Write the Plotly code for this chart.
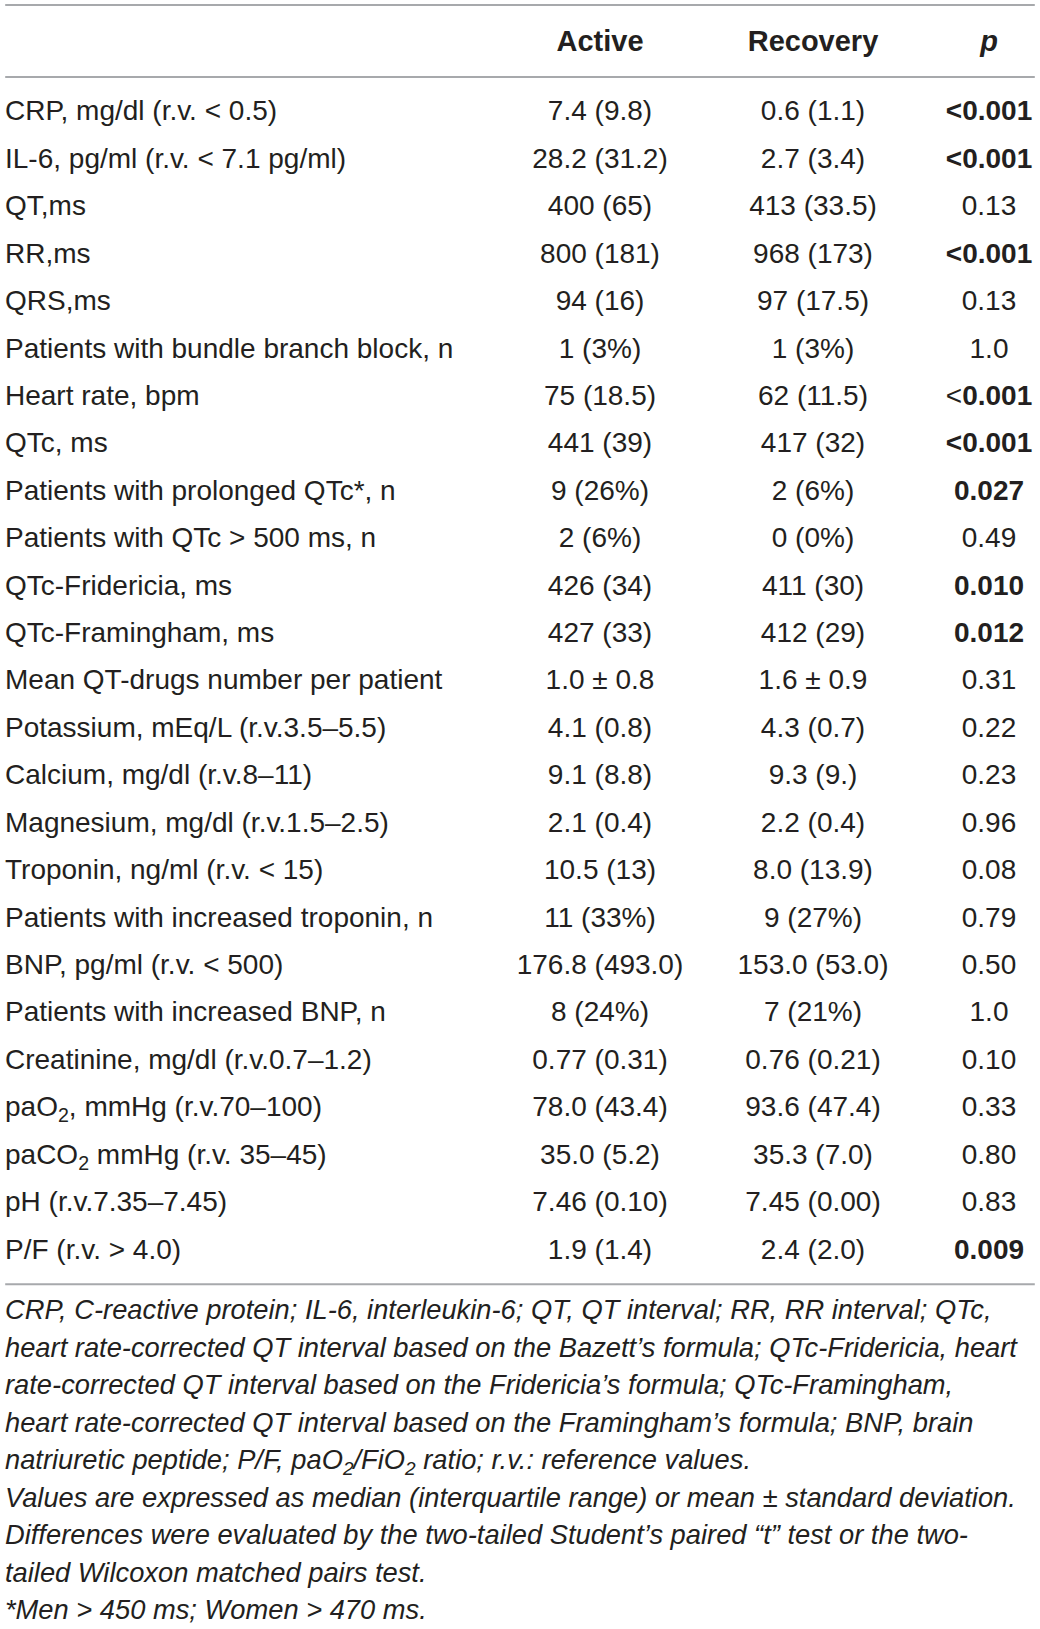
import plotly.graph_objects as go

# table content
labels = [
    "CRP, mg/dl (r.v. < 0.5)",
    "IL-6, pg/ml (r.v. < 7.1 pg/ml)",
    "QT,ms",
    "RR,ms",
    "QRS,ms",
    "Patients with bundle branch block, n",
    "Heart rate, bpm",
    "QTc, ms",
    "Patients with prolonged QTc*, n",
    "Patients with QTc > 500 ms, n",
    "QTc-Fridericia, ms",
    "QTc-Framingham, ms",
    "Mean QT-drugs number per patient",
    "Potassium, mEq/L (r.v.3.5–5.5)",
    "Calcium, mg/dl (r.v.8–11)",
    "Magnesium, mg/dl (r.v.1.5–2.5)",
    "Troponin, ng/ml (r.v. < 15)",
    "Patients with increased troponin, n",
    "BNP, pg/ml (r.v. < 500)",
    "Patients with increased BNP, n",
    "Creatinine, mg/dl (r.v.0.7–1.2)",
    "paO<sub>2</sub>, mmHg (r.v.70–100)",
    "paCO<sub>2</sub> mmHg (r.v. 35–45)",
    "pH (r.v.7.35–7.45)",
    "P/F (r.v. > 4.0)",
]
active = [
    "7.4 (9.8)", "28.2 (31.2)", "400 (65)", "800 (181)", "94 (16)", "1 (3%)",
    "75 (18.5)", "441 (39)", "9 (26%)", "2 (6%)", "426 (34)", "427 (33)",
    "1.0 ± 0.8", "4.1 (0.8)", "9.1 (8.8)", "2.1 (0.4)", "10.5 (13)", "11 (33%)",
    "176.8 (493.0)", "8 (24%)", "0.77 (0.31)", "78.0 (43.4)", "35.0 (5.2)",
    "7.46 (0.10)", "1.9 (1.4)",
]
recovery = [
    "0.6 (1.1)", "2.7 (3.4)", "413 (33.5)", "968 (173)", "97 (17.5)", "1 (3%)",
    "62 (11.5)", "417 (32)", "2 (6%)", "0 (0%)", "411 (30)", "412 (29)",
    "1.6 ± 0.9", "4.3 (0.7)", "9.3 (9.)", "2.2 (0.4)", "8.0 (13.9)", "9 (27%)",
    "153.0 (53.0)", "7 (21%)", "0.76 (0.21)", "93.6 (47.4)", "35.3 (7.0)",
    "7.45 (0.00)", "2.4 (2.0)",
]
p_values = [
    "<b><0.001</b>", "<b><0.001</b>", "0.13", "<b><0.001</b>", "0.13", "1.0",
    "<<b>0.001</b>", "<b><0.001</b>", "<b>0.027</b>", "0.49", "<b>0.010</b>",
    "<b>0.012</b>", "0.31", "0.22", "0.23", "0.96", "0.08", "0.79", "0.50",
    "1.0", "0.10", "0.33", "0.80", "0.83", "<b>0.009</b>",
]
headers = ["<b>Active</b>", "<b>Recovery</b>", "<b><i>p</i></b>"]
footnotes = [
    "CRP, C-reactive protein; IL-6, interleukin-6; QT, QT interval; RR, RR interval; QTc,",
    "heart rate-corrected QT interval based on the Bazett’s formula; QTc-Fridericia, heart",
    "rate-corrected QT interval based on the Fridericia’s formula; QTc-Framingham,",
    "heart rate-corrected QT interval based on the Framingham’s formula; BNP, brain",
    "natriuretic peptide; P/F, paO<sub>2</sub>/FiO<sub>2</sub> ratio; r.v.: reference values.",
    "Values are expressed as median (interquartile range) or mean ± standard deviation.",
    "Differences were evaluated by the two-tailed Student’s paired “t” test or the two-",
    "tailed Wilcoxon matched pairs test.",
    "*Men > 450 ms; Women > 470 ms.",
]

FONT = "Liberation Sans, Arial, sans-serif"
TXT = "#231f20"
SIZE = 28
COL_X = [600, 813, 989]
DY = 0.05          # nudge text down a touch so it sits centred on the row
rows = [i + DY for i in range(len(labels))]
body_font = dict(family=FONT, size=SIZE, color=TXT)

fig = go.Figure()
fig.add_trace(go.Scatter(x=[5] * len(rows), y=rows, text=labels, mode="text",
                         textposition="middle right", hoverinfo="skip",
                         textfont=body_font))
for cx, col in zip(COL_X, [active, recovery, p_values]):
    fig.add_trace(go.Scatter(x=[cx] * len(rows), y=rows, text=col, mode="text",
                             textposition="middle center", hoverinfo="skip",
                             textfont=body_font))
# header
fig.add_trace(go.Scatter(x=COL_X, y=[-1.464 + DY] * 3, text=headers, mode="text",
                         textposition="middle center", hoverinfo="skip",
                         textfont=dict(family=FONT, size=29, color=TXT)))
# footnote lines
foot_y = [25.28 + DY + 0.791 * i for i in range(len(footnotes))]
fig.add_trace(go.Scatter(x=[5] * len(footnotes), y=foot_y,
                         text=["<i>" + f + "</i>" for f in footnotes],
                         mode="text", textposition="middle right", hoverinfo="skip",
                         textfont=dict(family=FONT, size=27.3, color=TXT)))

# horizontal rules
for yy in [-2.235, -0.717, 24.74]:
    fig.add_shape(type="line", xref="paper", x0=0.005, x1=0.995, y0=yy, y1=yy,
                  line=dict(color="#a7a9ac", width=2))

fig.update_layout(
    width=1040, height=1629,
    margin=dict(l=0, r=0, t=0, b=0),
    paper_bgcolor="white", plot_bgcolor="white",
    showlegend=False,
    xaxis=dict(range=[0, 1040], visible=False, fixedrange=True),
    yaxis=dict(range=[32.01, -2.341], visible=False, fixedrange=True),
)
fig.write_html("out.html", config={"displayModeBar": False},
               post_script="document.body.style.margin='0';")
